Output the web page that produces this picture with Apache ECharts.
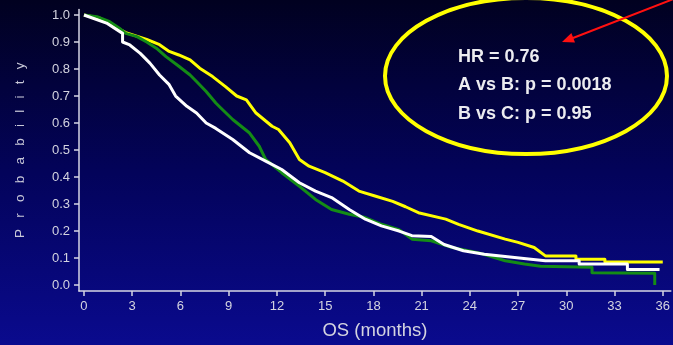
<!DOCTYPE html>
<html>
<head>
<meta charset="utf-8">
<script src="https://cdn.jsdelivr.net/npm/echarts@6/dist/echarts.min.js"></script>
<style>
  html, body { margin: 0; padding: 0; background: #000; }
  #chart { width: 673px; height: 345px; }
</style>
</head>
<body>
<div id="chart"></div>
<script>
// Kaplan-Meier overall survival, three arms: [month, survival probability]
const armA = [
  [0, 1.0], [1.0, 0.988], [1.8, 0.96], [2.6, 0.935], [3.9, 0.91], [4.7, 0.89],
  [5.3, 0.865], [5.9, 0.852], [6.6, 0.834], [7.2, 0.803], [8.0, 0.772], [8.8, 0.735],
  [9.5, 0.70], [10.1, 0.686], [10.7, 0.637], [11.7, 0.588], [12.1, 0.576], [12.8, 0.527],
  [13.4, 0.465], [14.0, 0.44], [15.0, 0.416], [16.1, 0.385], [17.1, 0.348], [18.1, 0.33],
  [19.2, 0.31], [20.0, 0.29], [20.8, 0.268], [22.5, 0.244], [23.3, 0.225], [24.5, 0.20],
  [26.2, 0.17], [27.0, 0.158], [28.0, 0.139], [28.7, 0.108], [30.6, 0.108], [30.6, 0.096],
  [32.4, 0.096], [32.4, 0.085], [36.0, 0.085]
];
const armB = [
  [0, 1.0], [0.8, 0.994], [1.6, 0.975], [2.2, 0.951], [2.6, 0.932], [3.3, 0.92],
  [3.9, 0.90], [4.5, 0.877], [5.1, 0.846], [5.9, 0.81], [6.6, 0.778], [7.0, 0.754],
  [7.6, 0.717], [8.2, 0.674], [8.4, 0.662], [9.25, 0.613], [10.3, 0.563], [10.9, 0.514],
  [11.3, 0.465], [12.3, 0.416], [13.4, 0.366], [14.4, 0.317], [15.4, 0.28], [16.5, 0.262],
  [17.5, 0.25], [18.5, 0.225], [19.6, 0.205], [20.4, 0.17], [21.6, 0.164], [22.9, 0.139],
  [24.5, 0.12], [26.2, 0.09], [27.4, 0.078], [28.4, 0.07], [31.6, 0.066], [31.6, 0.046],
  [35.5, 0.044], [35.5, 0.0]
];
const armC = [
  [0, 1.0], [1.4, 0.97], [2.4, 0.932], [2.4, 0.90], [2.85, 0.889], [3.5, 0.858],
  [4.1, 0.822], [4.7, 0.778], [5.3, 0.742], [5.7, 0.70], [6.4, 0.662], [7.0, 0.637],
  [7.6, 0.60], [8.2, 0.58], [9.25, 0.539], [10.3, 0.49], [11.3, 0.459], [12.3, 0.428],
  [13.4, 0.379], [14.4, 0.348], [15.4, 0.324], [16.5, 0.28], [17.5, 0.244], [18.5, 0.219],
  [19.6, 0.20], [20.4, 0.183], [21.6, 0.18], [22.4, 0.15], [23.6, 0.127], [24.9, 0.114],
  [26.2, 0.106], [27.8, 0.096], [28.7, 0.09], [30.8, 0.09], [30.8, 0.078], [33.8, 0.078],
  [33.8, 0.058], [35.8, 0.058]
];

// Axis ticks
const monthTicks = [0, 3, 6, 9, 12, 15, 18, 21, 24, 27, 30, 33, 36];
const probTicks = [0, 0.1, 0.2, 0.3, 0.4, 0.5, 0.6, 0.7, 0.8, 0.9, 1.0];

// Statistics box text
const statLines = ['HR = 0.76', 'A vs B: p = 0.0018', 'B vs C: p = 0.95'];

const axisColor = '#d6d6e4';
const labelFont = { color: '#d4d4e0', fontSize: 13, fontFamily: 'Liberation Sans, Arial, sans-serif' };

const chart = echarts.init(document.getElementById('chart'), null, { renderer: 'canvas' });

function armSeries(name, data, color) {
  return {
    name: name,
    type: 'line',
    data: data,
    showSymbol: false,
    symbol: 'none',
    lineStyle: { color: color, width: 3, join: 'round' },
    itemStyle: { color: color },
    z: 3,
    silent: true,
    animation: false
  };
}

chart.setOption({
  animation: false,
  backgroundColor: {
    type: 'linear', x: 0, y: 0, x2: 0, y2: 1,
    colorStops: [
      { offset: 0, color: '#010120' },
      { offset: 0.5, color: '#03035a' },
      { offset: 1, color: '#0a0a8e' }
    ]
  },
  grid: { left: 79, right: 0, top: 9.6, bottom: 53, containLabel: false },
  xAxis: {
    type: 'value',
    min: -0.31,
    max: 36.5,
    name: 'OS (months)',
    nameLocation: 'middle',
    nameGap: 30,
    nameTextStyle: { color: '#d4d4e0', fontSize: 18.5, fontFamily: 'Liberation Sans, Arial, sans-serif' },
    axisLine: { onZero: false, lineStyle: { color: axisColor, width: 1.5 } },
    axisTick: { show: true, length: 5, customValues: monthTicks, lineStyle: { color: axisColor, width: 1.5 } },
    axisLabel: Object.assign({ margin: 9, customValues: monthTicks }, labelFont),
    splitLine: { show: false }
  },
  yAxis: {
    type: 'value',
    min: -0.022,
    max: 1.02,
    name: 'Probability'.split('').join('   '),
    nameLocation: 'middle',
    nameRotate: 90,
    nameGap: 52,
    nameTextStyle: { color: '#c8c8d8', fontSize: 13.5, fontFamily: 'Liberation Sans, Arial, sans-serif' },
    axisLine: { onZero: false, lineStyle: { color: axisColor, width: 1.5 } },
    axisTick: { show: true, length: 5, customValues: probTicks, lineStyle: { color: axisColor, width: 1.5 } },
    axisLabel: Object.assign({
      margin: 9,
      customValues: probTicks,
      formatter: function (v) { return v.toFixed(1); }
    }, labelFont),
    splitLine: { show: false }
  },
  series: [
    armSeries('A', armA, '#ffff00'),
    armSeries('B', armB, '#148c16'),
    armSeries('C', armC, '#ffffff')
  ],
  graphic: [
    {
      type: 'ellipse',
      shape: { cx: 526, cy: 76, rx: 141, ry: 78 },
      style: { fill: 'none', stroke: '#ffff00', lineWidth: 4 },
      z: 10
    },
    {
      type: 'line',
      shape: { x1: 676, y1: -2, x2: 573, y2: 38 },
      style: { stroke: '#ff1010', lineWidth: 2 },
      z: 10
    },
    {
      type: 'polygon',
      shape: { points: [[562, 42], [575, 42.4], [571.4, 33]] },
      style: { fill: '#ff1010' },
      z: 10
    }
  ].concat(statLines.map(function (t, i) {
    return {
      type: 'text',
      x: 458,
      y: 57 + i * 28.5,
      style: {
        text: t,
        fill: '#ececf0',
        font: 'bold 18px "Liberation Sans", Arial, sans-serif',
        verticalAlign: 'middle'
      },
      z: 10
    };
  }))
});
</script>
</body>
</html>
